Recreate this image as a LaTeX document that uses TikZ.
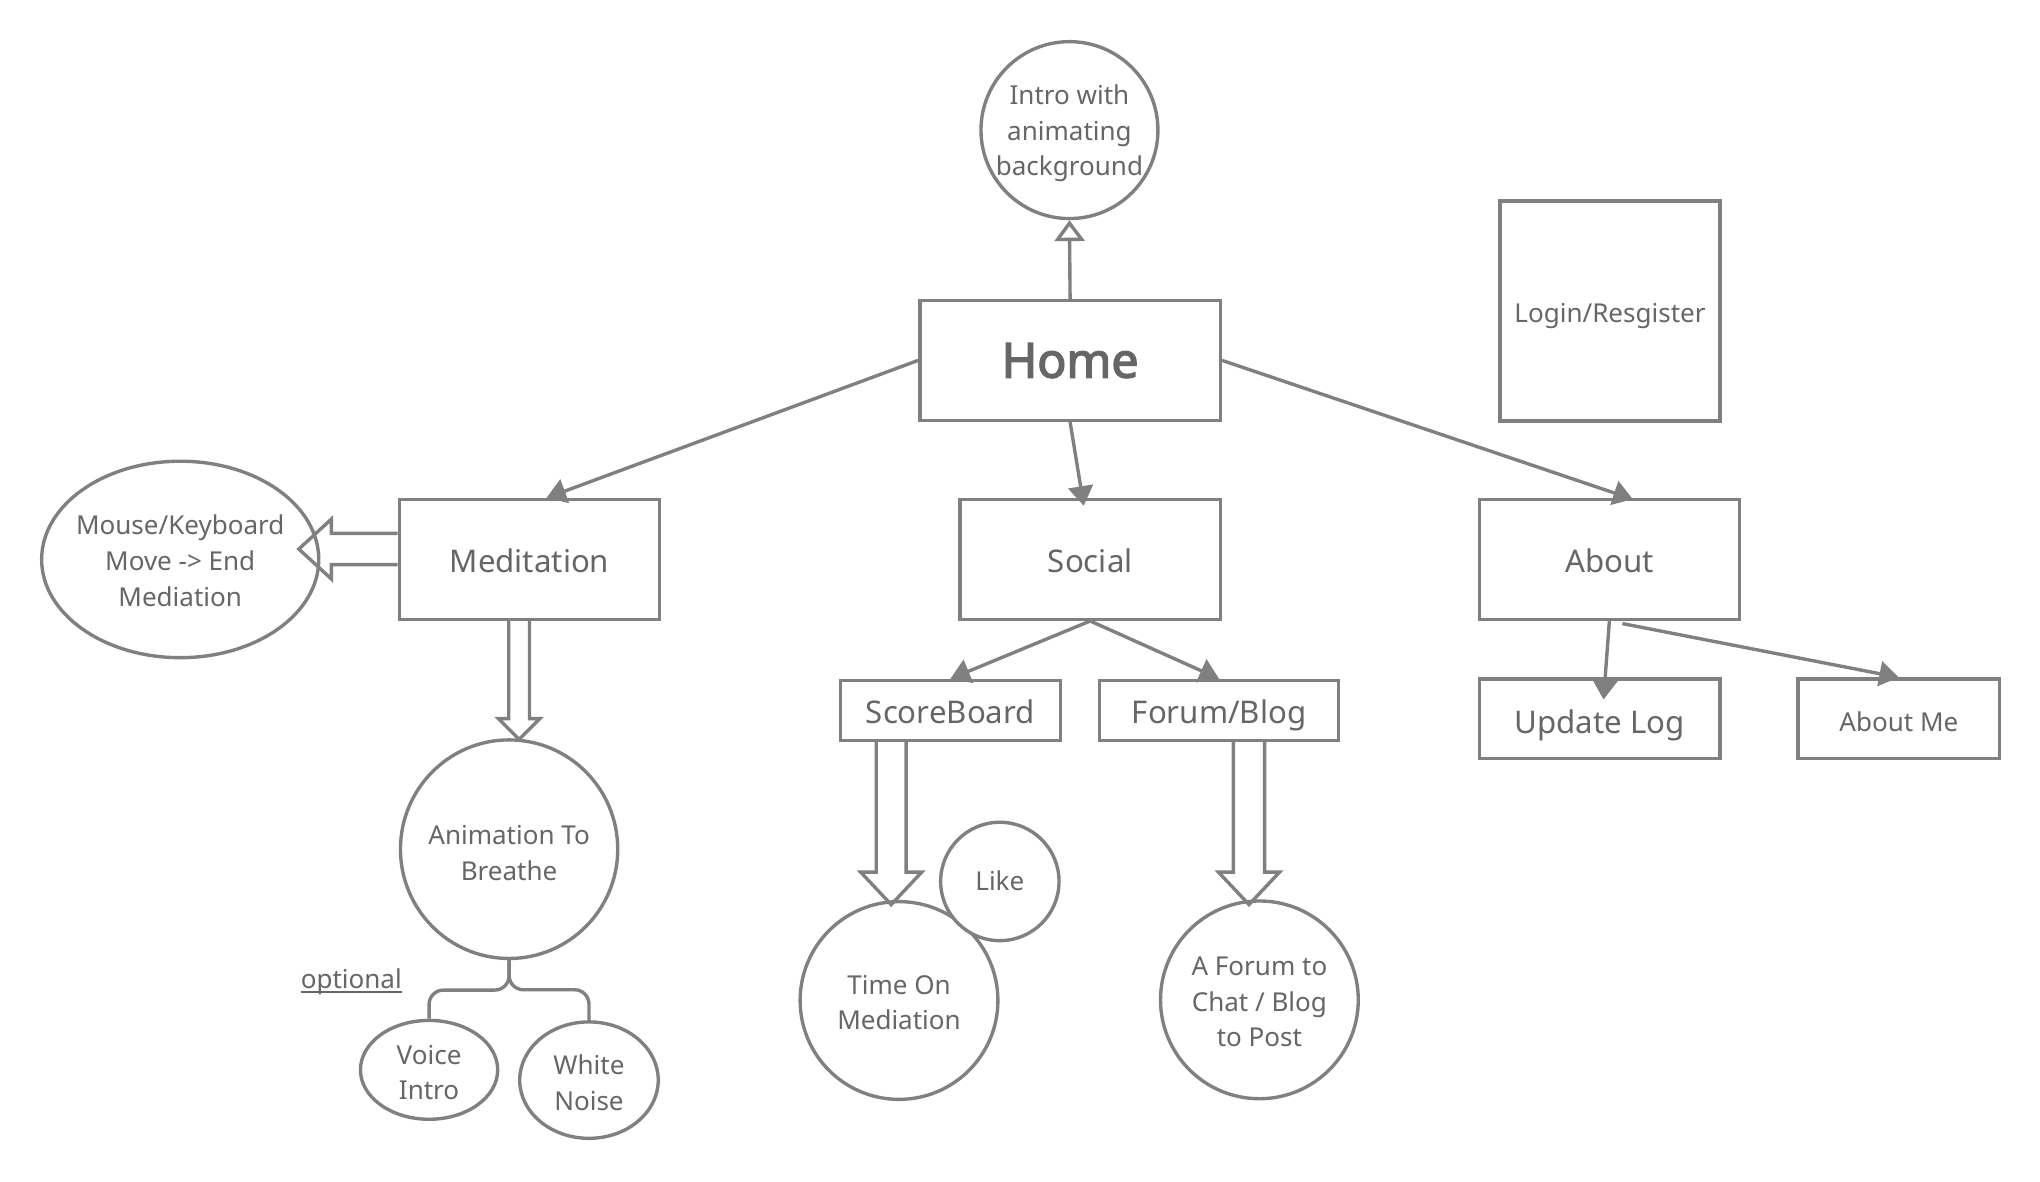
\documentclass[tikz,border=0pt]{standalone}
\usepackage{fontspec}
\setmainfont{Noto Sans}
\newfontfamily\homefont{Noto Sans}[FakeBold=3]
\usetikzlibrary{arrows.meta,calc,shapes.geometric}
\definecolor{linec}{RGB}{128,128,128}
\definecolor{textc}{RGB}{102,102,102}
\begin{document}
\begin{tikzpicture}[x=1pt,y=-1pt,
  every node/.style={text=textc, inner sep=0pt, align=center},
  box/.style={draw=linec, line width=2.6pt, rectangle, fill=white, text depth=0pt},
  circ/.style={draw=linec, line width=2.6pt, ellipse, fill=white},
  sm/.style={font=\fontsize{20}{27.5}\selectfont},
  lg/.style={font=\fontsize{24}{32}\selectfont},
  smb/.style={sm, text height=17pt},
  lgb/.style={lg, text height=20pt},
  conn/.style={draw=linec, line width=2.6pt},
  arr/.style={conn, -{Triangle[width=19pt,length=15pt]}},
  openarr/.style={conn, -{Triangle[open,width=23pt,length=16pt]}},
  block/.style={draw=linec, line width=2.6pt, line join=miter},
]
\fill[white] (0,0) rectangle (1568,907.8);
\useasboundingbox (0,0) rectangle (1568,907.8);

% boxes
\node[box, font=\homefont\fontsize{37}{44}\selectfont, text height=26.4pt, minimum width=231pt, minimum height=92pt] (home) at (822.5,277) {Home};
\node[box, smb, minimum width=169pt, minimum height=169pt] (login) at (1237.5,239) {Login/Resgister};
\node[box, lgb, minimum width=200pt, minimum height=92pt] (med) at (407,430) {Meditation};
\node[box, lgb, minimum width=200pt, minimum height=92pt] (social) at (838,430) {Social};
\node[box, lgb, minimum width=200pt, minimum height=92pt] (about) at (1237,430) {About};
\node[box, lgb, minimum width=169pt, minimum height=46pt] (score) at (730.5,546) {ScoreBoard};
\node[box, lgb, minimum width=184pt, minimum height=46pt] (forum) at (937,546) {Forum/Blog};
\node[box, lgb, text height=22pt, minimum width=185pt, minimum height=61pt] (update) at (1229.5,552.5) {Update Log};
\node[box, smb, text height=19pt, minimum width=155pt, minimum height=61pt] (aboutme) at (1459.5,552.5) {About Me};

% circles and ellipses (shape, then text)
\node[circ, minimum width=136pt, minimum height=136pt] (intro) at (822,100) {};
\node[sm] (introt) at ($(intro.center)+(0,2.5)$) {Intro with\\animating\\background};
\node[circ, minimum width=213pt, minimum height=151pt] (mouse) at (138.5,430) {};
\node[sm] (mouset) at ($(mouse.center)+(0,1)$) {Mouse/Keyboard\\Move -> End\\Mediation};
\node[circ, minimum width=167pt, minimum height=168pt] (anim) at (391.3,652.7) {};
\node[sm] (animt) at ($(anim.center)+(0,3)$) {Animation To\\Breathe};
\node[circ, minimum width=105.5pt, minimum height=76pt] (voice) at (329.8,822.3) {};
\node[sm] (voicet) at ($(voice.center)+(0,2)$) {Voice\\Intro};
\node[circ, minimum width=106.5pt, minimum height=89.5pt] (white) at (452.7,830.2) {};
\node[sm] (whitet) at ($(white.center)+(0,2)$) {White\\Noise};
\node[circ, minimum size=152pt] (time) at (691,769) {};
\node[sm] (timet) at ($(time.center)+(0,1.5)$) {Time On\\Mediation};
\node[circ, minimum size=91pt] (like) at (768.5,677.5) {};
\node[sm, text height=14.3pt, text depth=0pt] (liket) at (like.center) {Like};
\node[circ, minimum size=152pt] (post) at (968,768.5) {};
\node[sm] (postt) at ($(post.center)+(0,1.5)$) {A Forum to\\Chat / Blog\\to Post};
\node[sm, anchor=base] (opt) at (270,759.5) {optional};

% connectors
\draw[openarr] (home.north) -- (intro.south);
\draw[arr] (home.west) -- ($(med.north)+(13,0)$);
\draw[arr] (home.south) -- ($(social.north)+(-5,6)$);
\draw[arr] (home.east) -- ($(about.north)+(18,1)$);
\draw[arr] (social.south) -- (score.north);
\draw[arr] (social.south) -- (forum.north);
\draw[arr] (about.south) -- ($(update.north)+(3,17)$);
\draw[arr] ($(about.south)+(10,2)$) -- (aboutme.north);

% branch
\draw[conn, rounded corners=11pt] (anim.south) |- ($(voice.north)+(0,-22)$) -- (voice.north);
\draw[conn, rounded corners=11pt] (anim.south) |- ($(white.north)+(0,-23.4)$) -- (white.north);
\draw[textc, line width=1pt] ($(opt.base west)+(0,3)$) -- ($(opt.base east)+(0,3)$);

% block arrows
\draw[block] ($(med.west)+(0,-20)$) -- ++(-51,0) -- ++(0,-11) -- ++(-25,23) -- ++(25,23) -- ++(0,-11) -- ++(51,0);
\draw[block] ($(med.south)+(-16,0)$) -- ++(0,75) -- ++(-8,0) -- ++(16,16) -- ++(16,-16) -- ++(-8,0) -- ++(0,-75);
\draw[block] ($(score.south)+(-57,0)$) -- ++(0,100) -- ++(-12,0) -- ++(23.5,25) -- ++(23.5,-25) -- ++(-12,0) -- ++(0,-100);
\draw[block] ($(forum.south)+(11,0)$) -- ++(0,100) -- ++(-11.5,0) -- ++(23.5,25) -- ++(23.5,-25) -- ++(-11.5,0) -- ++(0,-100);
\end{tikzpicture}
\end{document}
